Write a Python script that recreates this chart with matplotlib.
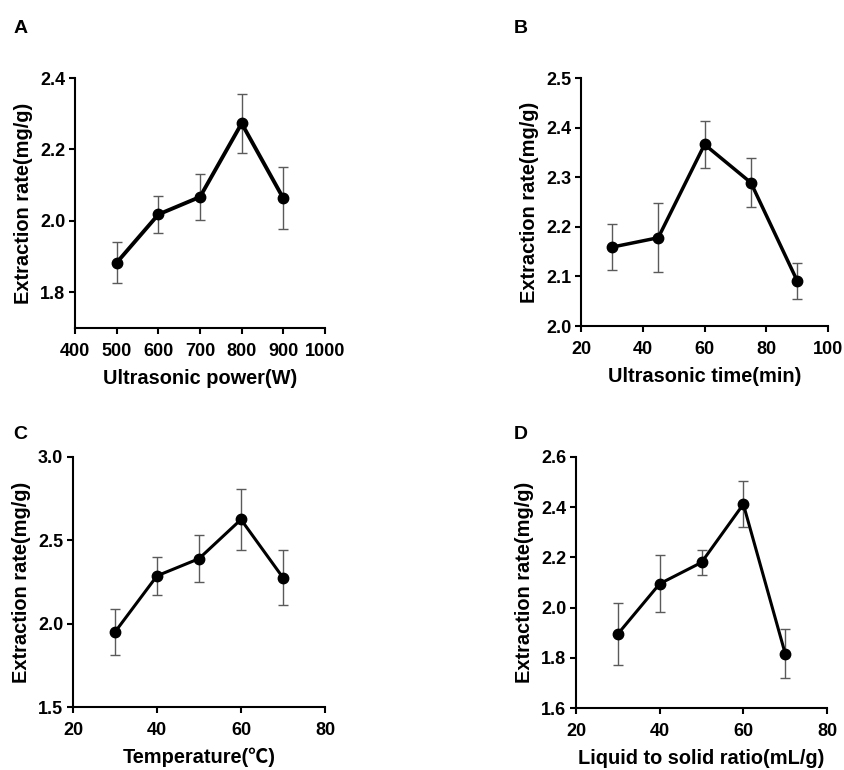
import numpy as np
import matplotlib.pyplot as plt

plt.rcParams['font.family'] = ['Liberation Sans', 'DejaVu Sans']
plt.rcParams['font.weight'] = 'bold'

# panel A: ultrasonic power
power = [500, 600, 700, 800, 900]
rate_a = [1.883, 2.018, 2.067, 2.273, 2.063]
err_a = [0.057, 0.052, 0.064, 0.083, 0.087]

# panel B: ultrasonic time
time_min = [30, 45, 60, 75, 90]
rate_b = [2.159, 2.178, 2.366, 2.289, 2.091]
err_b = [0.046, 0.069, 0.047, 0.050, 0.036]

# panel C: temperature
temp = [30, 40, 50, 60, 70]
rate_c = [1.950, 2.287, 2.390, 2.625, 2.276]
err_c = [0.137, 0.113, 0.140, 0.180, 0.164]

# panel D: liquid to solid ratio
ratio = [30, 40, 50, 60, 70]
rate_d = [1.895, 2.095, 2.180, 2.412, 1.817]
err_d = [0.124, 0.114, 0.050, 0.092, 0.097]

fig = plt.figure(figsize=(8.45, 7.7), dpi=100)

panels = [
    ('A', [0.0888, 0.574, 0.2958, 0.3247], power, rate_a, err_a,
     (400, 1000), np.arange(400, 1001, 100), (1.7, 2.4), [1.8, 2.0, 2.2, 2.4],
     'Ultrasonic power(W)', 2.8, (0.024, 0.963)),
    ('B', [0.6876, 0.5766, 0.2924, 0.3221], time_min, rate_b, err_b,
     (20, 100), np.arange(20, 101, 20), (2.0, 2.5), [2.0, 2.1, 2.2, 2.3, 2.4, 2.5],
     'Ultrasonic time(min)', 2.5, (0.616, 0.963)),
    ('C', [0.0864, 0.0818, 0.2982, 0.3247], temp, rate_c, err_c,
     (20, 80), np.arange(20, 81, 20), (1.5, 3.0), [1.5, 2.0, 2.5, 3.0],
     'Temperature(\u2103)', 2.2, (0.024, 0.436)),
    ('D', [0.6817, 0.0805, 0.2970, 0.3260], ratio, rate_d, err_d,
     (20, 80), np.arange(20, 81, 20), (1.6, 2.6), [1.6, 1.8, 2.0, 2.2, 2.4, 2.6],
     'Liquid to solid ratio(mL/g)', 2.2, (0.616, 0.436)),
]

for letter, rect, x, y, e, xlim, xt, ylim, yt, xlabel, lw, lpos in panels:
    ax = fig.add_axes(rect)
    ax.errorbar(x, y, yerr=e, fmt='none', ecolor='#5a5a5a', elinewidth=1.0,
                capsize=3.5, capthick=1.0, zorder=2)
    ax.plot(x, y, color='black', linewidth=lw, marker='o', markersize=7.5, zorder=3)
    ax.set_xlim(*xlim)
    ax.set_ylim(*ylim)
    ax.set_xticks(xt)
    ax.set_yticks(yt)
    ax.set_yticklabels(['%.1f' % v for v in yt])
    ax.spines['top'].set_visible(False)
    ax.spines['right'].set_visible(False)
    for s in ('left', 'bottom'):
        ax.spines[s].set_linewidth(1.5)
    ax.tick_params(width=1.5, length=4, labelsize=13)
    ax.tick_params(axis='x', pad=7)
    ax.tick_params(axis='y', pad=3)
    for lab in ax.get_xticklabels() + ax.get_yticklabels():
        lab.set_fontweight('bold')
    # the degree sign falls back to a CJK face, like the original figure
    ax.set_xlabel(xlabel, fontsize=14.4, fontweight='bold', labelpad=6,
                  family=['Liberation Sans', 'Noto Sans CJK SC', 'DejaVu Sans'])
    ax.set_ylabel('Extraction rate(mg/g)', fontsize=14.4, fontweight='bold', labelpad=5)
    fig.text(lpos[0], lpos[1], letter, fontsize=14, fontweight='bold',
             ha='center', va='center')

fig.savefig('out.png', dpi=100)
